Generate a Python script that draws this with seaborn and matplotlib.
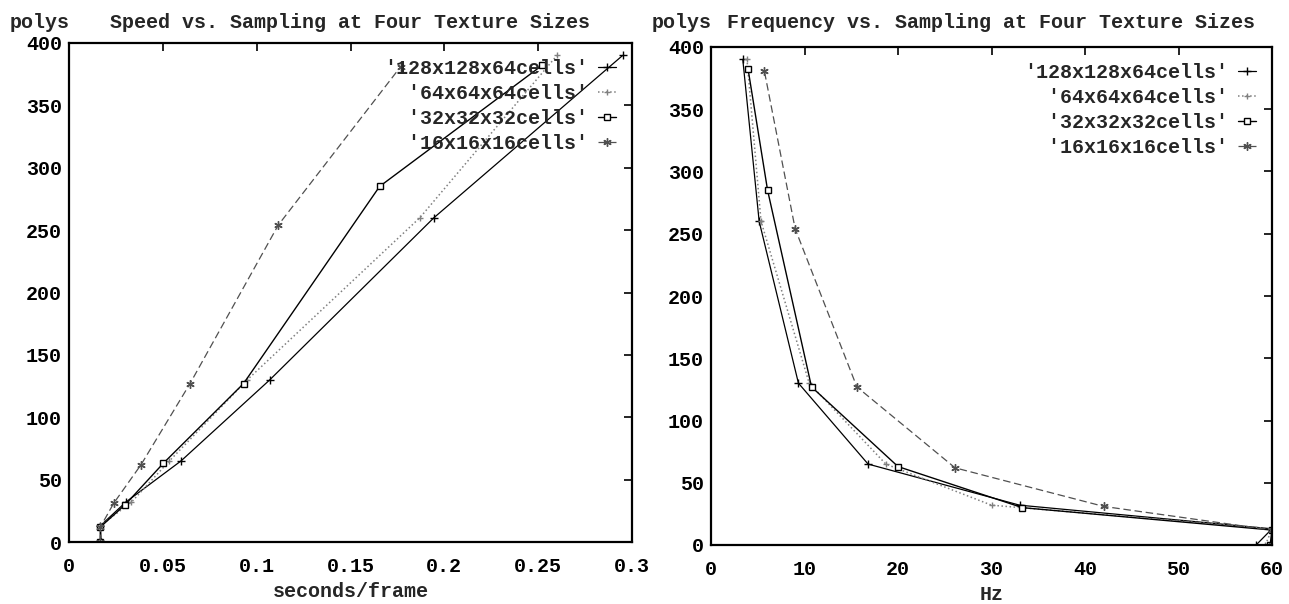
import matplotlib
matplotlib.use("Agg")
import matplotlib.pyplot as plt
import seaborn as sns

# legend labels (padded so the monospace text lines up on the right)
labels = ["'128x128x64cells'", "  '64x64x64cells'", "  '32x32x32cells'", "  '16x16x16cells'"]

# polygons per frame for each texture size
polys_128 = [0, 13, 32, 65, 130, 260, 390]
polys_64 = [0, 13, 32, 65, 130, 260, 390]
polys_32 = [0, 12, 30, 63, 127, 285, 382]
polys_16 = [0, 12, 31, 62, 127, 254, 381]

# seconds per frame (left chart)
secs_128 = [0.0172, 0.0167, 0.0303, 0.0597, 0.107, 0.1945, 0.295]
secs_64 = [0.0169, 0.0167, 0.0333, 0.0535, 0.095, 0.187, 0.260]
secs_32 = [0.0167, 0.0167, 0.0300, 0.0502, 0.093, 0.1655, 0.252]
secs_16 = [0.0167, 0.0167, 0.0238, 0.0384, 0.0645, 0.1115, 0.1767]

# frame rate (right chart)
hz_128 = [58.3, 60.0, 33.0, 16.8, 9.35, 5.15, 3.4]
hz_64 = [59.3, 60.0, 30.0, 18.7, 10.5, 5.35, 3.85]
hz_32 = [59.8, 60.0, 33.3, 20.0, 10.75, 6.05, 3.97]
hz_16 = [60.0, 60.0, 42.0, 26.1, 15.6, 9.0, 5.7]

secs_ticks = [0, 0.05, 0.1, 0.15, 0.2, 0.25, 0.3]
secs_tick_labels = ["0", "0.05", "0.1", "0.15", "0.2", "0.25", "0.3"]
hz_ticks = [0, 10, 20, 30, 40, 50, 60]
polys_ticks = [0, 50, 100, 150, 200, 250, 300, 350, 400]

polys_all = [polys_128, polys_64, polys_32, polys_16]
secs_all = [secs_128, secs_64, secs_32, secs_16]
hz_all = [hz_128, hz_64, hz_32, hz_16]

line_styles = [
    dict(color="black", linestyle="-", marker="+", markersize=6, lw=0.9),
    dict(color="#808080", linestyle=":", marker="+", markersize=5, lw=1.1),
    dict(color="black", linestyle="-", marker="s", markersize=5, markerfacecolor="white", lw=1.0),
    dict(color="#505050", linestyle=(0, (6, 3)), marker=(6, 2, 0), markersize=6, lw=0.9),
]

sns.set_style("white")
plt.rcParams["font.family"] = ["Liberation Mono", "DejaVu Sans Mono"]
plt.rcParams["font.weight"] = "bold"
fs = 14.4
W, H = 1289, 604

fig = plt.figure(figsize=(W / 100, H / 100), dpi=100)
ax1 = fig.add_axes([69 / W, 1 - 542 / H, 563 / W, 499 / H])
ax2 = fig.add_axes([711 / W, 1 - 545 / H, 561 / W, 498 / H])


def draw(ax, xs_all, xlim, xticks, xticklabels, xlabel, title):
    for xs, ys, lab, st in zip(xs_all, polys_all, labels, line_styles):
        sns.lineplot(x=xs, y=ys, ax=ax, sort=False, estimator=None, label=lab,
                     markeredgecolor=st["color"], markeredgewidth=1.0, **st)
    ax.set_xlim(xlim)
    ax.set_ylim(0, 400)
    ax.set_xticks(xticks)
    ax.set_xticklabels(xticklabels)
    ax.set_yticks(polys_ticks)
    ax.tick_params(direction="in", top=True, right=True, length=6, width=1.2,
                   labelsize=fs, colors="black")
    ax.tick_params(axis="x", pad=11)
    ax.tick_params(axis="y", pad=5)
    for s in ax.spines.values():
        s.set_linewidth(1.6)
        s.set_color("black")
    ax.set_xlabel(xlabel, fontsize=fs, fontweight="bold", labelpad=4)
    ax.set_ylabel("")
    pos = ax.get_position()
    base_y = 1 - 28 / H
    fig.text(pos.x0 + 1 / W, base_y, "polys", ha="right", va="baseline",
             fontsize=fs, fontweight="bold")
    fig.text((pos.x0 + pos.x1) / 2, base_y, title, ha="center", va="baseline",
             fontsize=fs, fontweight="bold")
    ax.legend(loc="upper right", bbox_to_anchor=(1.0, 1.0), frameon=False,
              markerfirst=False, fontsize=fs, handlelength=0.9,
              handletextpad=0.5, labelspacing=0.3, borderaxespad=0.5,
              borderpad=0.3)


draw(ax1, secs_all, (0, 0.3), secs_ticks, secs_tick_labels, "seconds/frame",
     "Speed vs. Sampling at Four Texture Sizes")
draw(ax2, hz_all, (0, 60), hz_ticks, [str(t) for t in hz_ticks], "Hz",
     "Frequency vs. Sampling at Four Texture Sizes")

fig.savefig("out.png", dpi=100)
